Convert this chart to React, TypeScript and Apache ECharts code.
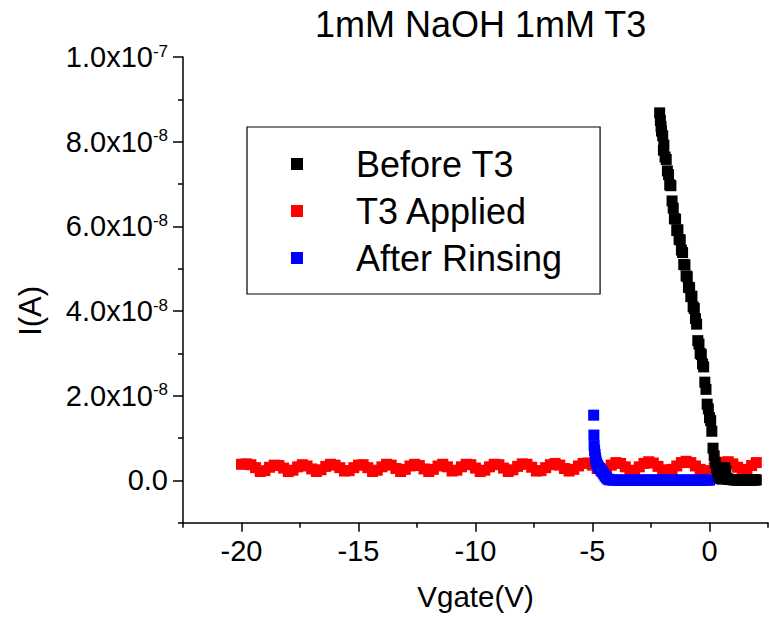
import React, { useEffect, useRef } from 'react';
import * as echarts from 'echarts';

const FONT = '"Liberation Sans", Arial, Helvetica, sans-serif';

// ---- Data (current in nA, gate voltage in V) ----
const beforeT3: [number, number][] = [
  [-2.13, 86.8], [-2.10, 85.0], [-2.07, 83.6], [-2.05, 82.5], [-2.00, 81.4], [-1.97, 78.0],
  [-1.95, 79.2], [-1.90, 76.4], [-1.85, 75.8], [-1.80, 73.1], [-1.75, 72.2], [-1.70, 69.8],
  [-1.65, 69.6], [-1.60, 66.0], [-1.55, 64.3], [-1.50, 61.8], [-1.45, 61.7], [-1.40, 59.0],
  [-1.35, 59.2], [-1.30, 56.9], [-1.25, 56.8], [-1.20, 54.4], [-1.15, 53.8], [-1.10, 51.0],
  [-1.05, 50.9], [-1.00, 48.3], [-0.95, 48.1], [-0.90, 45.6], [-0.85, 45.5], [-0.80, 43.4],
  [-0.75, 43.5], [-0.70, 41.0], [-0.65, 40.6], [-0.60, 38.2], [-0.55, 36.9], [-0.50, 33.0],
  [-0.45, 32.2], [-0.40, 30.0], [-0.35, 29.7], [-0.30, 27.5], [-0.25, 26.8], [-0.20, 23.2],
  [-0.15, 21.5], [-0.10, 18.0], [-0.05, 16.9], [0.00, 14.8], [0.05, 14.1], [0.10, 11.6],
  [0.15, 7.6], [0.20, 5.8], [0.25, 4.1], [0.30, 3.0], [0.35, 2.0], [0.40, 1.0],
  [0.45, 0.5], [0.50, 0.4], [0.55, 0.3], [0.60, 2.6], [0.65, 3.0], [0.70, 2.2],
  [0.75, 0.4], [0.80, 0.3], [0.85, 0.2], [0.90, 0.2], [0.95, 0.2], [1.00, 0.1],
  [1.05, 0.2], [1.10, 0.1], [1.15, 0.1], [1.20, 0.2], [1.25, 0.1], [1.30, 0.1],
  [1.35, 0.1], [1.40, 0.1], [1.45, 0.2], [1.50, 0.1], [1.55, 0.1], [1.60, 0.1],
  [1.65, 0.1], [1.70, 0.1], [1.75, 0.1], [1.80, 0.1], [1.85, 0.1], [1.90, 0.1],
  [1.95, 0.1], [2.00, 0.1],
];

const t3Vgate: number[] = [
  -20, -19.8, -19.6, -19.4, -19.2, -19, -18.8, -18.6, -18.4, -18.2,
  -18, -17.8, -17.6, -17.4, -17.2, -17, -16.8, -16.6, -16.4, -16.2,
  -16, -15.8, -15.6, -15.4, -15.2, -15, -14.8, -14.6, -14.4, -14.2,
  -14, -13.8, -13.6, -13.4, -13.2, -13, -12.8, -12.6, -12.4, -12.2,
  -12, -11.8, -11.6, -11.4, -11.2, -11, -10.8, -10.6, -10.4, -10.2,
  -10, -9.8, -9.6, -9.4, -9.2, -9, -8.8, -8.6, -8.4, -8.2,
  -8, -7.8, -7.6, -7.4, -7.2, -7, -6.8, -6.6, -6.4, -6.2,
  -6, -5.8, -5.6, -5.4, -5.2, -5, -4.8, -4.6, -4.4, -4.2,
  -4, -3.8, -3.6, -3.4, -3.2, -3, -2.8, -2.6, -2.4, -2.2,
  -2, -1.8, -1.6, -1.4, -1.2, -1, -0.8, -0.6, -0.4, -0.2,
  0, 0.2, 0.4, 0.6, 0.8, 1, 1.2, 1.4, 1.6, 1.8,
  2,
];
const t3Current: number[] = [
  3.8, 3.9, 3.7, 3.0, 2.1, 2.3, 3.1, 3.6, 3.5, 2.9,
  2.1, 2.4, 3.2, 3.7, 3.4, 2.7, 2.1, 2.5, 3.3, 3.8,
  3.6, 3.0, 2.2, 2.3, 3.0, 3.6, 3.7, 3.0, 2.1, 2.4,
  3.2, 3.8, 3.6, 2.8, 2.1, 2.6, 3.4, 3.8, 3.5, 2.7,
  2.1, 2.6, 3.4, 3.8, 3.2, 2.2, 2.4, 3.2, 3.8, 3.7,
  2.9, 2.1, 2.4, 3.2, 3.8, 3.7, 2.9, 2.1, 2.5, 3.3,
  3.9, 3.8, 3.1, 2.2, 2.3, 3.0, 3.7, 4.0, 3.6, 2.8,
  2.2, 2.6, 3.4, 4.0, 4.1, 3.6, 2.8, 2.2, 2.7, 3.6,
  4.2, 4.0, 3.2, 2.3, 2.4, 3.2, 4.0, 4.4, 4.1, 3.3,
  2.5, 2.1, 2.6, 3.4, 4.2, 4.5, 4.2, 3.4, 2.6, 2.1,
  2.3, 3.0, 3.8, 4.3, 4.4, 3.9, 3.1, 2.5, 2.6, 3.5,
  4.2,
];

const afterRinsing: [number, number][] = [
  [-4.95, 15.4], [-4.94, 10.7], [-4.93, 8.2], [-4.91, 7.1], [-4.89, 6.1], [-4.87, 5.3],
  [-4.85, 4.6], [-4.82, 4.0], [-4.78, 3.5], [-4.74, 3.1], [-4.70, 2.8], [-4.64, 2.4],
  [-4.58, 2.0], [-4.52, 1.5], [-4.46, 1.0], [-4.40, 0.6], [-4.34, 0.3], [-4.28, 0.15],
  [-4.20, 0.1], [-4.1, 0.05], [-4.0, 0.05], [-3.9, 0.05], [-3.8, 0.05], [-3.7, 0.05],
  [-3.6, 0.05], [-3.5, 0.05], [-3.4, 0.05], [-3.3, 0.05], [-3.2, 0.05], [-3.1, 0.05],
  [-3.0, 0.05], [-2.9, 0.05], [-2.8, 0.05], [-2.7, 0.05], [-2.6, 0.05], [-2.5, 0.05],
  [-2.4, 0.05], [-2.3, 0.05], [-2.2, 0.05], [-2.1, 0.05], [-2.0, 0.05], [-1.9, 0.05],
  [-1.8, 0.05], [-1.7, 0.05], [-1.6, 0.05], [-1.5, 0.05], [-1.4, 0.05], [-1.3, 0.05],
  [-1.2, 0.05], [-1.1, 0.05], [-1.0, 0.05], [-0.9, 0.05], [-0.8, 0.05], [-0.7, 0.05],
  [-0.6, 0.05], [-0.5, 0.05], [-0.4, 0.05], [-0.3, 0.05], [-0.2, 0.05], [-0.1, 0.05],
  [0.0, 0.05],
];

const seriesNames = ['Before T3', 'T3 Applied', 'After Rinsing'];
const seriesColors = ['#000000', '#ff0000', '#0000ff'];

const xMajorTicks = [-20, -15, -10, -5, 0];
const xTickLabels = ['-20', '-15', '-10', '-5', '0'];
const xMinorTicks = [-22.5, -17.5, -12.5, -7.5, -2.5, 2.5];

const yTickValues = [0, 2e-8, 4e-8, 6e-8, 8e-8, 1e-7];
const yTickMantissa = ['0.0', '2.0x10', '4.0x10', '6.0x10', '8.0x10', '1.0x10'];
const yTickExponent = ['', '-8', '-8', '-8', '-8', '-7'];
const yMinorTicks = [-1e-8, 1e-8, 3e-8, 5e-8, 7e-8, 9e-8];

const NA = 1e-9;

function buildOption() {
  const black = beforeT3.map(([v, i]) => [v, i * NA]);
  const red = t3Vgate.map((v, k) => [v, t3Current[k] * NA]);
  const blue = afterRinsing.map(([v, i]) => [v, i * NA]);

  const axisColor = '#000';
  const xMin = -22.5, xMax = 2.5, yMin = -1e-8, yMax = 1e-7;

  const scatter = (name: string, color: string, data: number[][]) => ({
    name,
    type: 'scatter',
    xAxisIndex: 0,
    yAxisIndex: 0,
    symbol: 'rect',
    symbolSize: 11,
    itemStyle: { color, opacity: 1 },
    emphasis: { disabled: true },
    data,
  });

  return {
    animation: false,
    backgroundColor: '#ffffff',
    title: {
      text: '1mM NaOH 1mM T3',
      left: 310,
      top: 1,
      textStyle: { fontSize: 36, fontWeight: 'normal', color: '#000', fontFamily: FONT },
    },
    legend: {
      orient: 'vertical',
      left: 247,
      top: 127,
      padding: [19, 38, 18, 44],
      itemWidth: 12,
      itemHeight: 12,
      itemGap: 11,
      icon: 'rect',
      borderColor: '#000',
      borderWidth: 1.2,
      data: seriesNames,
      itemStyle: { opacity: 1 },
      textStyle: { fontSize: 36, lineHeight: 35, color: '#000', fontFamily: FONT, padding: [0, 0, 0, 48] },
    },
    grid: {
      left: 183,
      right: 1,
      top: 57,
      bottom: 94.3,
      outerBoundsMode: 'none',
      containLabel: false,
    },
    xAxis: [
      {
        type: 'value',
        min: xMin,
        max: xMax,
        position: 'bottom',
        axisLine: { show: true, onZero: false, lineStyle: { color: axisColor, width: 1.5 } },
        axisTick: { show: true, inside: false, length: 9, customValues: xMajorTicks, lineStyle: { color: axisColor, width: 1.5 } },
        axisLabel: {
          customValues: xMajorTicks,
          formatter: (v: number) => {
            const i = xMajorTicks.findIndex((t) => Math.abs(t - v) < 1e-6);
            return i >= 0 ? xTickLabels[i] : '';
          },
          margin: 14,
          fontSize: 29,
          color: '#000',
          fontFamily: FONT,
        },
        splitLine: { show: false },
        name: 'Vgate(V)',
        nameLocation: 'middle',
        nameGap: 59,
        nameTextStyle: { fontSize: 29.5, color: '#000', fontFamily: FONT },
      },
      {
        type: 'value',
        min: xMin,
        max: xMax,
        position: 'bottom',
        axisLine: { show: false, onZero: false },
        axisTick: { show: true, inside: false, length: 5, customValues: xMinorTicks, lineStyle: { color: axisColor, width: 1.5 } },
        axisLabel: { show: false },
        splitLine: { show: false },
      },
    ],
    yAxis: [
      {
        type: 'value',
        min: yMin,
        max: yMax,
        position: 'left',
        axisLine: { show: true, onZero: false, lineStyle: { color: axisColor, width: 1.5 } },
        axisTick: { show: true, inside: false, length: 10, customValues: yTickValues, lineStyle: { color: axisColor, width: 1.5 } },
        axisLabel: {
          customValues: yTickValues,
          formatter: (v: number) => {
            const i = yTickValues.findIndex((t) => Math.abs(t - v) < 1e-12);
            if (i < 0) return '';
            return yTickExponent[i]
              ? `{m|${yTickMantissa[i]}}{s|${yTickExponent[i]}}`
              : `{m|${yTickMantissa[i]}}`;
          },
          margin: 15,
          fontSize: 29,
          color: '#000',
          fontFamily: FONT,
          rich: {
            m: { fontSize: 29, lineHeight: 29, color: '#000', fontFamily: FONT },
            s: { fontSize: 17, lineHeight: 11, verticalAlign: 'top', color: '#000', fontFamily: FONT },
          },
        },
        splitLine: { show: false },
        name: 'I(A)',
        nameLocation: 'middle',
        nameGap: 137,
        nameTextStyle: { fontSize: 31, color: '#000', fontFamily: FONT, padding: [0, 42, 0, 0] },
      },
      {
        type: 'value',
        min: yMin,
        max: yMax,
        position: 'left',
        axisLine: { show: false, onZero: false },
        axisTick: { show: true, inside: false, length: 5, customValues: yMinorTicks, lineStyle: { color: axisColor, width: 1.5 } },
        axisLabel: { show: false },
        splitLine: { show: false },
      },
    ],
    series: [
      scatter(seriesNames[1], seriesColors[1], red),
      scatter(seriesNames[2], seriesColors[2], blue),
      scatter(seriesNames[0], seriesColors[0], black),
    ],
  };
}

export default function App() {
  const ref = useRef<HTMLDivElement>(null);
  useEffect(() => {
    if (!ref.current) return;
    const chart = echarts.init(ref.current, null, { renderer: 'svg' });
    chart.setOption(buildOption() as any);
    return () => chart.dispose();
  }, []);
  return (
    <div
      ref={ref}
      style={{ position: 'fixed', left: 0, top: 0, width: 769, height: 617, background: '#fff' }}
    />
  );
}
